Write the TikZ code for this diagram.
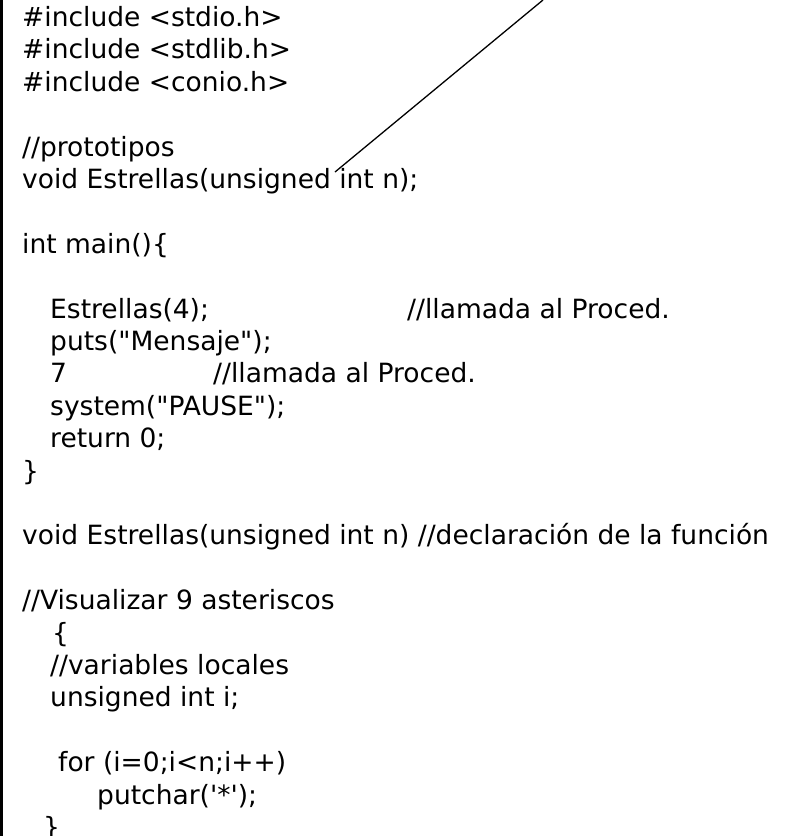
\documentclass[tikz,border=0pt]{standalone}
\usepackage{fontspec}
\setmainfont{DejaVu Sans}
\usepackage{tikz}

\begin{document}
\begin{tikzpicture}
		[x=1pt,y=-1pt,every node/.style={anchor=base west,inner sep=0pt,font=\fontsize{26.5}{32}\selectfont},edge/.style={line width=1.3pt}]
		\useasboundingbox (0,0) rectangle (797,836);
		\draw[line width=3pt] (1.5,0) -- (1.5,836);

		\foreach \lib/\y in {stdio/26.5,stdlib/58.9,conio/91.3}
		\node (inc\lib) at (22,\y) {\#include <\lib.h>};
		\node (proto) at (22,156.1) {//prototipos};
		\node (decl) at (22,188.5) {void Estrellas(unsigned int n);};
		\node (main) at (22,253.3) {int main()\{};
		\node (call1) at (50,318.1) {Estrellas(4);};
		\node (com1) at (407,318.1) {//llamada al Proced.};
		\node (puts) at (50,350.5) {puts(\textquotedbl Mensaje\textquotedbl);};
		\node (seven) at (50,382.9) {7};
		\node (com2) at (213,382.9) {//llamada al Proced.};
		\node (sys) at (50,415.3) {system(\textquotedbl PAUSE\textquotedbl);};
		\node (ret) at (50,447.7) {return 0;};
		\node (close1) at (22,480.1) {\}};
		\node (def) at (22,544.9) {void Estrellas(unsigned int n) //declaración de la función};
		\node (vis) at (22,609.7) {//Visualizar 9 asteriscos};
		\node (open2) at (52,642.1) {\{};
		\node (loc) at (50,674.5) {//variables locales};
		\node (var) at (50,706.9) {unsigned int i;};
		\node (for) at (58,771.7) {for (i=0;i<n;i++)};
		\node (put) at (97,804.1) {putchar(\textquotesingle*\textquotesingle);};
		\node (close2) at (43,836.5) {\}};

		\coordinate (top) at (543,0);
		\coordinate (tip) at (335,172);
		\draw[edge] (top) -- (tip);
		\end{tikzpicture}
\end{document}
